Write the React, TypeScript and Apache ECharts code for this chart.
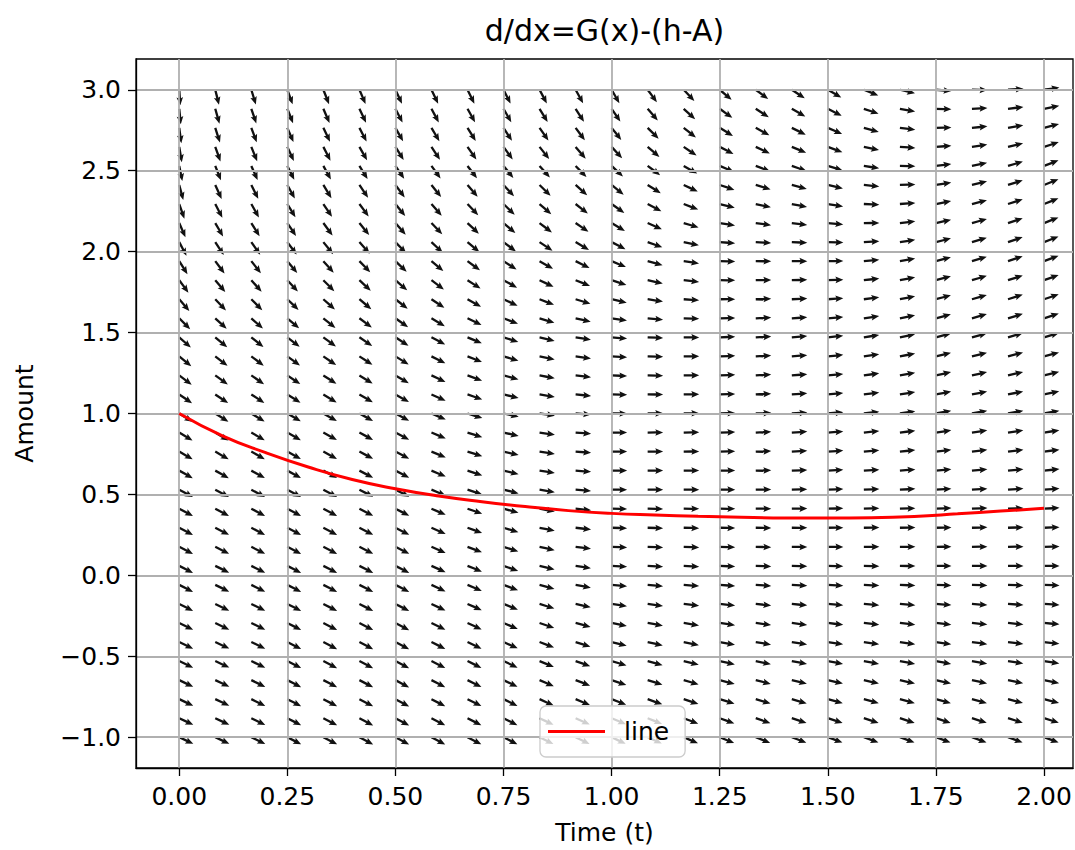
import React, { useEffect, useRef } from "react";
import * as echarts from "echarts";

// ---------- tick labels ----------
const X_TICKS = [0, 0.25, 0.5, 0.75, 1.0, 1.25, 1.5, 1.75, 2.0];
const Y_TICKS = [-1.0, -0.5, 0.0, 0.5, 1.0, 1.5, 2.0, 2.5, 3.0];

// ---------- quiver sample grid (25 columns x 35 rows) ----------
const FIELD_T = [0, 0.0833, 0.1667, 0.25, 0.3333, 0.4167, 0.5, 0.5833, 0.6667, 0.75, 0.8333, 0.9167, 1.0,
  1.0833, 1.1667, 1.25, 1.3333, 1.4167, 1.5, 1.5833, 1.6667, 1.75, 1.8333, 1.9167, 2.0];
const FIELD_Y = [-1, -0.8824, -0.7647, -0.6471, -0.5294, -0.4118, -0.2941, -0.1765, -0.0588, 0.0588, 0.1765,
  0.2941, 0.4118, 0.5294, 0.6471, 0.7647, 0.8824, 1.0, 1.1176, 1.2353, 1.3529, 1.4706, 1.5882, 1.7059, 1.8235,
  1.9412, 2.0588, 2.1765, 2.2941, 2.4118, 2.5294, 2.6471, 2.7647, 2.8824, 3.0];

// ---------- arrow directions (screen angle, degrees, + = up) ----------
const ANGLE_T_KNOTS = [0, 0.0833, 0.25, 0.5, 0.75, 1.0, 1.25, 1.5, 1.75, 2.0];
const ANGLE_Y_KNOTS = [-1, -0.5, 0, 0.5, 1, 1.5, 2, 2.5, 3];
const ANGLE_AT_T0 = [-25, -26, -27, -28, -32, -42, -60, -78, -86];
const ANGLE_AT_T008 = [-25, -25, -26, -28, -32, -40, -55, -68, -76];
const ANGLE_AT_T025 = [-27, -27, -27, -28, -30, -38, -52, -63, -70];
const ANGLE_AT_T050 = [-28, -28, -27, -27, -28, -33, -45, -55, -65];
const ANGLE_AT_T075 = [-27, -25, -20, -14, -12, -18, -35, -50, -63];
const ANGLE_AT_T100 = [-25, -16, -4, 0, 0, -5, -25, -42, -60];
const ANGLE_AT_T125 = [-22, -12, -3, 0, 2, 2, -2, -22, -40];
const ANGLE_AT_T150 = [-20, -10, -2, 2, 5, 6, 0, -16, -30];
const ANGLE_AT_T175 = [-20, -10, -1, 3, 10, 15, 15, 8, -5];
const ANGLE_AT_T200 = [-20, -8, -1, 4, 10, 17, 21, 22, 8];
const ANGLE_TABLE = [ANGLE_AT_T0, ANGLE_AT_T008, ANGLE_AT_T025, ANGLE_AT_T050, ANGLE_AT_T075,
  ANGLE_AT_T100, ANGLE_AT_T125, ANGLE_AT_T150, ANGLE_AT_T175, ANGLE_AT_T200];

// ---------- red solution line ----------
const LINE_T = [0, 0.1, 0.2, 0.3, 0.4, 0.5, 0.6, 0.7, 0.8, 0.9, 1.0, 1.1, 1.2, 1.3, 1.4, 1.5, 1.6, 1.7, 1.8, 1.9, 2.0];
const LINE_Y = [1.0, 0.862, 0.758, 0.668, 0.592, 0.535, 0.49, 0.455, 0.425, 0.4, 0.383, 0.373, 0.365, 0.359,
  0.355, 0.354, 0.356, 0.364, 0.38, 0.397, 0.414];

const FONT = "DejaVu Sans";

function locate(knots: number[], v: number): [number, number] {
  let i = 0;
  while (i < knots.length - 2 && v > knots[i + 1]) i++;
  const f = Math.min(1, Math.max(0, (v - knots[i]) / (knots[i + 1] - knots[i])));
  return [i, f];
}

function angleAt(t: number, y: number): number {
  const [i, ft] = locate(ANGLE_T_KNOTS, t);
  const [j, fy] = locate(ANGLE_Y_KNOTS, y);
  const a00 = ANGLE_TABLE[i][j], a01 = ANGLE_TABLE[i][j + 1];
  const a10 = ANGLE_TABLE[i + 1][j], a11 = ANGLE_TABLE[i + 1][j + 1];
  const a0 = a00 + (a01 - a00) * fy;
  const a1 = a10 + (a11 - a10) * fy;
  return a0 + (a1 - a0) * ft;
}

// arrow outline in (along, across) pixel units, tail at origin
const ARROW_SHAPE: [number, number][] = [
  [0, -1.15], [8.6, -1.15], [7.6, -3.3], [15.5, 0], [7.6, 3.3], [8.6, 1.15], [0, 1.15],
];

export default function App() {
  const ref = useRef<HTMLDivElement>(null);

  useEffect(() => {
    document.body.style.margin = "0";
    if (!ref.current) return;
    const chart = echarts.init(ref.current, undefined, { renderer: "svg" });

    const fieldData: number[][] = [];
    for (const t of FIELD_T) {
      for (const y of FIELD_Y) {
        fieldData.push([t, y, angleAt(t, y)]);
      }
    }
    const lineData = LINE_T.map((t, k) => [t, LINE_Y[k]]);

    const axisText = { fontSize: 25, fontFamily: FONT, color: "#000" };

    chart.setOption({
      animation: false,
      grid: {
        left: 136, top: 59, width: 937, height: 709,
        show: true, borderColor: "#000", borderWidth: 1.3, backgroundColor: "transparent",
      },
      graphic: [
        {
          type: "text", x: 604.5, y: 30, z: 10,
          style: {
            text: "d/dx=G(x)-(h-A)", fontSize: 30, fontFamily: FONT, fill: "#000",
            align: "center", verticalAlign: "middle",
          },
        },
      ],
      xAxis: {
        type: "value", min: -0.1, max: 2.067, z: 3,
        axisLine: { show: true, onZero: false, lineStyle: { color: "#000", width: 1.3 } },
        axisTick: { show: true, length: 8, lineStyle: { color: "#000", width: 1.3 }, customValues: X_TICKS },
        axisLabel: {
          customValues: X_TICKS, margin: 16, ...axisText,
          formatter: (v: number) => v.toFixed(2),
        },
        splitLine: { show: true, lineStyle: { color: "#b0b0b0", width: 1.8 } },
        name: "Time (t)", nameLocation: "middle", nameGap: 52,
        nameTextStyle: axisText,
      },
      yAxis: {
        type: "value", min: -1.19, max: 3.19, z: 3,
        axisLine: { show: true, onZero: false, lineStyle: { color: "#000", width: 1.3 } },
        axisTick: { show: true, length: 8, lineStyle: { color: "#000", width: 1.3 }, customValues: Y_TICKS },
        axisLabel: {
          customValues: Y_TICKS, margin: 15, ...axisText,
          formatter: (v: number) => v.toFixed(1).replace("-", "\u2212"),
        },
        splitLine: { show: true, lineStyle: { color: "#b0b0b0", width: 1.8 } },
        name: "Amount", nameLocation: "middle", nameGap: 99, nameRotate: 90,
        nameTextStyle: axisText,
      },
      legend: {
        data: [{ name: "line", icon: "rect" }],
        left: 540, top: 706,
        itemWidth: 57, itemHeight: 3,
        padding: [13, 16, 13, 8],
        backgroundColor: "rgba(255,255,255,0.8)",
        borderColor: "#cccccc", borderWidth: 1.3, borderRadius: 6,
        textStyle: { fontSize: 25, fontFamily: FONT, color: "#000", padding: [0, 0, 0, 14] },
        z: 10,
      },
      series: [
        {
          type: "custom", name: "field", z: 2, clip: true,
          data: fieldData,
          renderItem: (_params: any, api: any) => {
            const t = api.value(0), y = api.value(1), ang = api.value(2);
            const p = api.coord([t, y]);
            const r = (ang * Math.PI) / 180;
            const ux = Math.cos(r), uy = -Math.sin(r);
            const vx = -uy, vy = ux;
            const pts = ARROW_SHAPE.map(([u, v]) => [p[0] + u * ux + v * vx, p[1] + u * uy + v * vy]);
            return { type: "polygon", shape: { points: pts }, style: { fill: "#111" } };
          },
        },
        {
          type: "line", name: "line", z: 5, data: lineData, smooth: true,
          symbol: "none", lineStyle: { color: "#ff0000", width: 3 }, itemStyle: { color: "#ff0000" },
        },
      ],
    });

    return () => chart.dispose();
  }, []);

  return <div ref={ref} style={{ width: 1075, height: 850 }} />;
}
